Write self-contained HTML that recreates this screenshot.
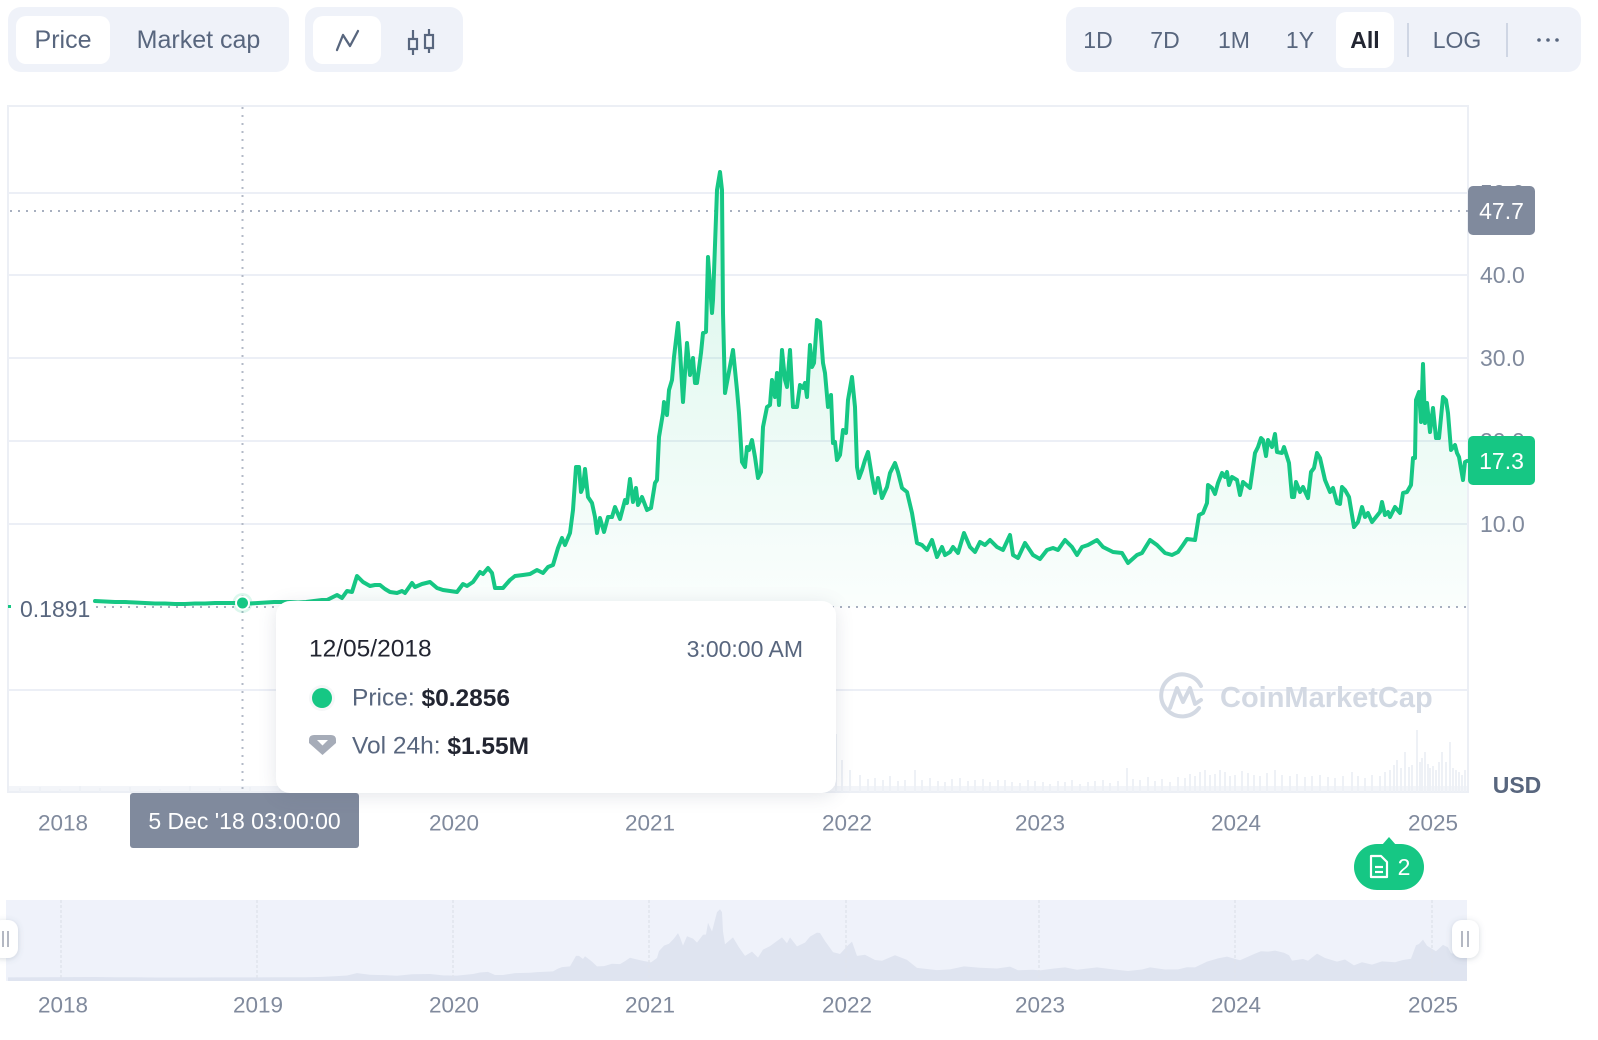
<!DOCTYPE html>
<html><head><meta charset="utf-8">
<style>
html,body{margin:0;padding:0;background:#fff;}
body{width:1598px;height:1040px;overflow:hidden;position:relative;font-family:"Liberation Sans","DejaVu Sans",sans-serif;}
svg text{font-family:"Liberation Sans","DejaVu Sans",sans-serif;}
#tip{position:absolute;left:276px;top:601px;width:560px;height:192px;background:#fff;border-radius:14px;box-shadow:0 3px 18px rgba(88,102,126,0.16);}
</style></head>
<body>
<svg width="1598" height="1040" viewBox="0 0 1598 1040" style="position:absolute;left:0;top:0">
<defs>
<linearGradient id="gf" x1="0" y1="170" x2="0" y2="607" gradientUnits="userSpaceOnUse">
<stop offset="0" stop-color="#16c784" stop-opacity="0.17"/>
<stop offset="1" stop-color="#16c784" stop-opacity="0.02"/>
</linearGradient>
<filter id="hs" x="-50%" y="-50%" width="200%" height="200%"><feDropShadow dx="0" dy="1" stdDeviation="3" flood-color="#58667e" flood-opacity="0.25"/></filter>
</defs>

<!-- top left groups -->
<rect x="8" y="7" width="281" height="65" rx="13" fill="#eff2f9"/>
<rect x="16" y="16" width="94" height="48" rx="10" fill="#fff"/>
<text x="63" y="40" font-size="25" fill="#58667e" text-anchor="middle" dominant-baseline="central">Price</text>
<text x="198.5" y="40" font-size="25" fill="#58667e" text-anchor="middle" dominant-baseline="central">Market cap</text>
<rect x="305" y="7" width="158" height="65" rx="13" fill="#eff2f9"/>
<rect x="313" y="16" width="68" height="48" rx="10" fill="#fff"/>
<polyline points="337,50 343,35 350,46 358,31" fill="none" stroke="#58667e" stroke-width="2.3" stroke-linejoin="round" stroke-linecap="round"/>
<g stroke="#58667e" stroke-width="2.2" fill="none">
<line x1="413" y1="30" x2="413" y2="55"/><rect x="409" y="39" width="8" height="10" fill="#eff2f9"/>
<line x1="429" y1="29" x2="429" y2="53"/><rect x="425" y="35" width="8" height="13" fill="#eff2f9"/>
</g>

<!-- top right group -->
<rect x="1066" y="7" width="515" height="65" rx="13" fill="#eff2f9"/>
<rect x="1336" y="12" width="58" height="56" rx="10" fill="#fff"/>
<g font-size="23" fill="#58667e" text-anchor="middle" dominant-baseline="central">
<text x="1098" y="40">1D</text><text x="1165" y="40">7D</text><text x="1234" y="40">1M</text><text x="1300" y="40">1Y</text>
<text x="1365" y="40" fill="#222531" font-weight="bold">All</text>
<text x="1457" y="40">LOG</text>
</g>
<line x1="1408" y1="23" x2="1408" y2="57" stroke="#cfd6e4" stroke-width="2"/>
<line x1="1507" y1="23" x2="1507" y2="57" stroke="#cfd6e4" stroke-width="2"/>
<circle cx="1539" cy="40" r="1.8" fill="#58667e"/><circle cx="1548" cy="40" r="1.8" fill="#58667e"/><circle cx="1557" cy="40" r="1.8" fill="#58667e"/>

<!-- plot frame & grid -->
<rect x="8" y="106" width="1460" height="686" fill="none" stroke="#eceff5" stroke-width="2"/>
<g stroke="#eceff6" stroke-width="2">
<line x1="8" y1="193" x2="1468" y2="193"/>
<line x1="8" y1="275" x2="1468" y2="275"/>
<line x1="8" y1="358" x2="1468" y2="358"/>
<line x1="8" y1="441" x2="1468" y2="441"/>
<line x1="8" y1="524" x2="1468" y2="524"/>
<line x1="8" y1="690" x2="1468" y2="690"/>
</g>

<!-- volume bars -->
<rect x="9" y="786" width="1458" height="5" fill="#f3f5f9"/>
<path d="M20 792V788M40 792V787M60 792V789M80 792V786M100 792V788M130 792V787M160 792V789M190 792V786M220 792V788M250 792V787M280 792V788M310 792V785M340 792V787M370 792V786M400 792V788M430 792V785M460 792V784M480 792V786M500 792V782M520 792V784M540 792V780M555 792V775M565 792V778M580 792V777M600 792V779M620 792V776M640 792V774M655 792V770M665 792V765M675 792V768M685 792V760M695 792V766M705 792V755M712 792V750M720 792V745M730 792V762M740 792V768M750 792V770M760 792V765M770 792V768M780 792V772M790 792V770M800 792V766M810 792V770M820 792V760M830 792V752M836 792V734M842 792V760M850 792V770M860 792V775M868 792V779M875 792V778M883 792V780M890 792V776M898 792V781M905 792V780M915 792V770M922 792V780M930 792V778M938 792V781M945 792V782M952 792V779M960 792V778M968 792V781M975 792V780M983 792V779M990 792V782M998 792V780M1005 792V780M1012 792V782M1020 792V783M1028 792V780M1035 792V781M1043 792V782M1050 792V784M1058 792V781M1065 792V782M1072 792V780M1080 792V784M1088 792V782M1095 792V781M1103 792V780M1110 792V783M1118 792V781M1127 792V768M1133 792V779M1140 792V780M1148 792V777M1155 792V781M1162 792V779M1170 792V782M1178 792V777M1185 792V778M1190 792V774M1195 792V776M1200 792V772M1205 792V770M1210 792V775M1215 792V774M1220 792V770M1225 792V772M1230 792V776M1235 792V775M1242 792V771M1248 792V773M1254 792V775M1260 792V776M1267 792V773M1275 792V770M1282 792V775M1290 792V776M1297 792V774M1305 792V777M1312 792V776M1320 792V775M1328 792V777M1335 792V778M1343 792V776M1352 792V772M1358 792V776M1365 792V778M1372 792V775M1380 792V776M1385 792V772M1390 792V770M1394 792V765M1397 792V760M1401 792V768M1405 792V752M1409 792V767M1412 792V765M1417 792V730M1420 792V762M1422 792V758M1425 792V752M1428 792V764M1430 792V768M1433 792V766M1436 792V770M1439 792V762M1442 792V752M1446 792V762M1450 792V742M1453 792V768M1456 792V770M1459 792V772M1462 792V775M1465 792V770" stroke="#eef1f6" stroke-width="2"/>

<!-- watermark -->
<g fill="none" stroke="#d3d9e3" stroke-width="4" stroke-linecap="round" stroke-linejoin="round">
<path d="M1199 708 A21 21 0 1 1 1201 686"/>
<path d="M1170 708 L1177 688 L1183 702 L1190 688 L1195 704 L1201 700"/>
</g>
<text x="1220" y="698" font-size="29" font-weight="bold" fill="#d3d9e3" dominant-baseline="central">CoinMarketCap</text>

<!-- area fill -->
<polygon fill="url(#gf)" points="95,601 105,601.5 115,602 125,602 135,602.5 145,603 155,603.5 165,603.5 175,604 185,604 195,603.5 205,603.5 215,603 225,603 235,603 243,603 250,603.5 258,603 266,602.5 274,602 282,602 290,602 298,602.5 306,602 314,601 322,600 327,600 337,595 342,598 347,591 352,592 357,576 363,582 370,586 375,585 380,585 385,589 390,592 397,593 402,591 405,593 412,583 415,587 422,584 430,582 437,588 443,590 450,591 457,592 463,584 467,586 473,582 480,572 483,574 488,568 492,573 495,588 503,588 510,580 515,576 523,575 530,574 537,570 543,573 548,567 553,565 558,548 562,538 565,545 570,533 573,510 576,467 579,467 581,492 583,487 585,469 588,497 592,503 595,517 597,533 600,518 604,532 608,517 612,517 615,507 620,519 625,500 627,503 630,479 633,502 636,488 638,505 642,497 647,510 651,508 655,483 657,480 659,437 663,413 664,402 667,415 669,390 672,380 674,357 678,323 680,350 683,402 687,343 690,375 693,358 695,383 697,383 701,353 703,333 706,332 708,257 712,313 713,300 717,190 720,172 722,190 723,313 725,393 728,377 733,350 737,390 739,413 742,462 745,467 747,447 749,450 752,440 755,457 758,478 761,472 763,427 767,407 770,405 772,380 775,397 777,373 779,405 782,350 785,380 787,387 790,350 793,407 797,407 800,385 803,388 805,383 807,397 810,345 812,367 814,363 817,320 820,322 823,363 825,373 828,407 831,395 833,443 835,442 837,460 840,455 843,430 846,433 848,400 852,377 855,407 857,467 859,478 862,470 865,460 868,452 872,477 875,493 878,478 882,498 887,487 890,473 895,463 898,472 902,488 907,492 912,513 917,543 922,545 927,550 932,540 937,557 942,547 945,555 950,552 953,547 958,553 964,533 970,547 975,552 980,542 985,545 990,540 997,547 1003,550 1010,535 1013,555 1018,558 1025,543 1033,555 1040,559 1047,550 1053,548 1058,550 1065,540 1072,547 1077,555 1082,547 1088,545 1097,540 1103,547 1113,552 1122,553 1128,563 1137,555 1142,553 1150,540 1157,545 1165,553 1172,555 1178,552 1183,545 1187,539 1195,540 1199,515 1203,513 1207,503 1208,485 1212,488 1215,494 1218,483 1222,473 1225,477 1227,472 1229,485 1232,477 1237,480 1240,495 1243,482 1250,488 1255,453 1258,447 1261,438 1263,440 1266,456 1268,440 1272,447 1275,434 1277,452 1282,453 1284,447 1289,463 1292,497 1294,497 1296,482 1300,492 1303,487 1308,498 1311,472 1314,468 1317,453 1320,458 1325,480 1330,492 1333,488 1337,503 1340,504 1342,487 1345,490 1349,497 1354,527 1358,522 1362,507 1365,517 1368,513 1372,522 1380,512 1382,502 1385,515 1388,512 1390,517 1395,507 1400,513 1403,493 1407,492 1411,485 1413,458 1415,458 1416,400 1419,392 1421,422 1423,364 1425,423 1427,403 1430,432 1433,408 1436,438 1439,438 1443,397 1446,400 1448,413 1451,450 1455,445 1457,453 1459,457 1463,480 1465,462 1467,461 1467,607 95,607"/>

<!-- dotted lines -->
<line x1="10" y1="211" x2="1468" y2="211" stroke="#a7afbf" stroke-width="2" stroke-dasharray="2 6"/>
<line x1="96" y1="607" x2="1468" y2="607" stroke="#a7afbf" stroke-width="2" stroke-dasharray="2 6"/>
<line x1="242.5" y1="107" x2="242.5" y2="792" stroke="#b3bac7" stroke-width="2" stroke-dasharray="2 6"/>

<!-- price line -->
<polyline fill="none" stroke="#16c784" stroke-width="4" stroke-linejoin="round" stroke-linecap="round" points="95,601 105,601.5 115,602 125,602 135,602.5 145,603 155,603.5 165,603.5 175,604 185,604 195,603.5 205,603.5 215,603 225,603 235,603 243,603 250,603.5 258,603 266,602.5 274,602 282,602 290,602 298,602.5 306,602 314,601 322,600 327,600 337,595 342,598 347,591 352,592 357,576 363,582 370,586 375,585 380,585 385,589 390,592 397,593 402,591 405,593 412,583 415,587 422,584 430,582 437,588 443,590 450,591 457,592 463,584 467,586 473,582 480,572 483,574 488,568 492,573 495,588 503,588 510,580 515,576 523,575 530,574 537,570 543,573 548,567 553,565 558,548 562,538 565,545 570,533 573,510 576,467 579,467 581,492 583,487 585,469 588,497 592,503 595,517 597,533 600,518 604,532 608,517 612,517 615,507 620,519 625,500 627,503 630,479 633,502 636,488 638,505 642,497 647,510 651,508 655,483 657,480 659,437 663,413 664,402 667,415 669,390 672,380 674,357 678,323 680,350 683,402 687,343 690,375 693,358 695,383 697,383 701,353 703,333 706,332 708,257 712,313 713,300 717,190 720,172 722,190 723,313 725,393 728,377 733,350 737,390 739,413 742,462 745,467 747,447 749,450 752,440 755,457 758,478 761,472 763,427 767,407 770,405 772,380 775,397 777,373 779,405 782,350 785,380 787,387 790,350 793,407 797,407 800,385 803,388 805,383 807,397 810,345 812,367 814,363 817,320 820,322 823,363 825,373 828,407 831,395 833,443 835,442 837,460 840,455 843,430 846,433 848,400 852,377 855,407 857,467 859,478 862,470 865,460 868,452 872,477 875,493 878,478 882,498 887,487 890,473 895,463 898,472 902,488 907,492 912,513 917,543 922,545 927,550 932,540 937,557 942,547 945,555 950,552 953,547 958,553 964,533 970,547 975,552 980,542 985,545 990,540 997,547 1003,550 1010,535 1013,555 1018,558 1025,543 1033,555 1040,559 1047,550 1053,548 1058,550 1065,540 1072,547 1077,555 1082,547 1088,545 1097,540 1103,547 1113,552 1122,553 1128,563 1137,555 1142,553 1150,540 1157,545 1165,553 1172,555 1178,552 1183,545 1187,539 1195,540 1199,515 1203,513 1207,503 1208,485 1212,488 1215,494 1218,483 1222,473 1225,477 1227,472 1229,485 1232,477 1237,480 1240,495 1243,482 1250,488 1255,453 1258,447 1261,438 1263,440 1266,456 1268,440 1272,447 1275,434 1277,452 1282,453 1284,447 1289,463 1292,497 1294,497 1296,482 1300,492 1303,487 1308,498 1311,472 1314,468 1317,453 1320,458 1325,480 1330,492 1333,488 1337,503 1340,504 1342,487 1345,490 1349,497 1354,527 1358,522 1362,507 1365,517 1368,513 1372,522 1380,512 1382,502 1385,515 1388,512 1390,517 1395,507 1400,513 1403,493 1407,492 1411,485 1413,458 1415,458 1416,400 1419,392 1421,422 1423,364 1425,423 1427,403 1430,432 1433,408 1436,438 1439,438 1443,397 1446,400 1448,413 1451,450 1455,445 1457,453 1459,457 1463,480 1465,462 1467,461"/>

<!-- baseline label -->
<rect x="8" y="605" width="3" height="3" fill="#16c784"/>
<text x="20" y="609" font-size="23" fill="#58667e" dominant-baseline="central">0.1891</text>

<!-- hover dot -->
<circle cx="242.5" cy="603" r="10" fill="#16c784" fill-opacity="0.15"/>
<circle cx="242.5" cy="603" r="6.5" fill="#16c784" stroke="#fff" stroke-width="2"/>

<!-- y labels -->
<g font-size="23" fill="#808a9d" dominant-baseline="central">
<text x="1480" y="193">50.0</text>
<text x="1480" y="275">40.0</text>
<text x="1480" y="358">30.0</text>
<text x="1480" y="441">20.0</text>
<text x="1480" y="524">10.0</text>
</g>
<rect x="1468" y="186" width="67" height="49" rx="5" fill="#808a9d"/>
<text x="1501.5" y="211" font-size="23" fill="#fff" text-anchor="middle" dominant-baseline="central">47.7</text>
<rect x="1468" y="436" width="67" height="49" rx="5" fill="#16c784"/>
<text x="1501.5" y="461" font-size="23" fill="#fff" text-anchor="middle" dominant-baseline="central">17.3</text>
<text x="1517" y="785" font-size="23" font-weight="bold" fill="#58667e" text-anchor="middle" dominant-baseline="central">USD</text>

<!-- x labels -->
<g font-size="22.5" fill="#808a9d" text-anchor="middle" dominant-baseline="central">
<text x="63" y="823">2018</text><text x="454" y="823">2020</text><text x="650" y="823">2021</text><text x="847" y="823">2022</text><text x="1040" y="823">2023</text><text x="1236" y="823">2024</text><text x="1433" y="823">2025</text>
</g>
<rect x="130" y="793" width="229" height="55" rx="3" fill="#808a9d"/>
<text x="244.5" y="821" font-size="23" fill="#fff" text-anchor="middle" dominant-baseline="central">5 Dec '18 03:00:00</text>

<!-- news badge -->
<path d="M1382 845 L1389 837 L1396 845 Z" fill="#16c784"/>
<rect x="1354" y="844" width="70" height="46" rx="23" fill="#16c784"/>
<g fill="none" stroke="#fff" stroke-width="2.2" stroke-linejoin="round">
<path d="M1371 856 h10 l6 6 v15 h-16 z"/>
<line x1="1375" y1="867" x2="1383" y2="867"/><line x1="1375" y1="872" x2="1383" y2="872"/>
</g>
<text x="1404" y="867" font-size="23" fill="#fff" text-anchor="middle" dominant-baseline="central">2</text>

<!-- navigator -->
<rect x="6" y="900" width="1461" height="81" fill="#eff2fa"/>
<g transform="matrix(1 0 0 0.158 0 882.1)">
<polygon fill="#dfe4f0" points="8,603 95,601 115,602 135,602.5 155,603.5 175,604 195,603.5 215,603 235,603 258,603 274,602 290,602 306,602 322,600 337,595 347,591 357,576 370,586 385,589 397,593 412,583 430,582 443,590 457,592 473,582 480,572 488,568 495,588 503,588 515,576 530,574 537,570 548,567 553,565 558,548 562,538 570,533 576,467 579,467 583,487 585,469 592,503 597,533 604,532 612,517 620,519 625,500 630,479 636,488 642,497 651,508 657,480 659,437 664,402 669,390 674,357 678,323 680,350 683,402 687,343 693,358 697,383 703,333 706,332 708,257 712,313 717,190 720,172 722,190 723,313 725,393 733,350 739,413 745,467 752,440 758,478 763,427 770,405 777,373 782,350 787,387 790,350 797,407 805,383 810,345 817,320 820,322 825,373 833,443 840,455 848,400 852,377 857,467 865,460 875,493 882,498 895,463 907,492 917,543 927,550 937,557 950,552 964,533 980,542 997,547 1010,535 1018,558 1033,555 1040,559 1053,548 1065,540 1077,555 1097,540 1113,552 1128,563 1142,553 1150,540 1165,553 1178,552 1187,539 1195,540 1207,503 1218,483 1227,472 1240,495 1255,453 1261,438 1268,440 1275,434 1284,447 1289,463 1292,497 1303,487 1308,498 1317,453 1325,480 1337,503 1345,490 1354,527 1362,507 1372,522 1382,502 1395,507 1403,493 1411,485 1416,400 1419,392 1423,364 1427,403 1436,438 1443,397 1448,413 1451,450 1459,457 1463,480 1467,461 1467,626 8,626"/>
</g>
<g stroke="#e0e4ed" stroke-width="1.5" stroke-dasharray="3 2">
<line x1="61" y1="900" x2="61" y2="981"/><line x1="257" y1="900" x2="257" y2="981"/><line x1="453" y1="900" x2="453" y2="981"/><line x1="649" y1="900" x2="649" y2="981"/><line x1="846" y1="900" x2="846" y2="981"/><line x1="1039" y1="900" x2="1039" y2="981"/><line x1="1235" y1="900" x2="1235" y2="981"/><line x1="1432" y1="900" x2="1432" y2="981"/>
</g>
<rect x="-8" y="920" width="26" height="38" rx="10" fill="#fff" filter="url(#hs)"/>
<line x1="3" y1="931" x2="3" y2="947" stroke="#a1a7b4" stroke-width="1.6"/>
<line x1="8" y1="931" x2="8" y2="947" stroke="#a1a7b4" stroke-width="1.6"/>
<rect x="1452" y="920" width="27" height="38" rx="10" fill="#fff" filter="url(#hs)"/>
<line x1="1462" y1="931" x2="1462" y2="947" stroke="#a1a7b4" stroke-width="1.6"/>
<line x1="1468" y1="931" x2="1468" y2="947" stroke="#a1a7b4" stroke-width="1.6"/>
<g font-size="22.5" fill="#808a9d" text-anchor="middle" dominant-baseline="central">
<text x="63" y="1005">2018</text><text x="258" y="1005">2019</text><text x="454" y="1005">2020</text><text x="650" y="1005">2021</text><text x="847" y="1005">2022</text><text x="1040" y="1005">2023</text><text x="1236" y="1005">2024</text><text x="1433" y="1005">2025</text>
</g>
</svg>

<div id="tip">
<svg width="560" height="192" viewBox="0 0 560 192" style="position:absolute;left:0;top:0">
<text x="33" y="48" font-size="24.5" fill="#222531" dominant-baseline="central">12/05/2018</text>
<text x="527" y="48" font-size="23" fill="#58667e" text-anchor="end" dominant-baseline="central">3:00:00 AM</text>
<circle cx="46" cy="97" r="13" fill="#58667e" fill-opacity="0.05"/>
<circle cx="46" cy="97" r="10" fill="#16c784"/>
<text x="76" y="97" font-size="24.5" fill="#58667e" dominant-baseline="central">Price: <tspan fill="#222531" font-weight="bold">$0.2856</tspan></text>
<path d="M33 139 q0 -5 5 -5 h17 q5 0 5 5 v3 l-13.5 12 l-13.5 -12 z" fill="#a6acb8"/>
<path d="M41 139 h11 l-5.5 5.5 z" fill="#fff"/>
<text x="76" y="145" font-size="24.5" fill="#58667e" dominant-baseline="central">Vol 24h: <tspan fill="#222531" font-weight="bold">$1.55M</tspan></text>
</svg>
</div>
</body></html>
